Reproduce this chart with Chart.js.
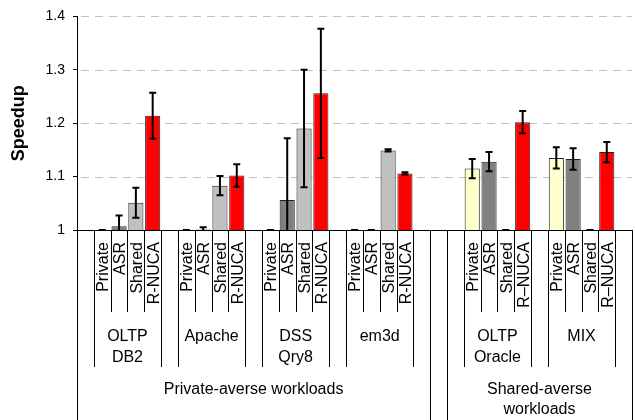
<!DOCTYPE html>
<html>
<head>
<meta charset="utf-8">
<script src="https://cdn.jsdelivr.net/npm/chart.js@4.4.1/dist/chart.umd.min.js"></script>
<style>
  body { margin: 0; background: #fff; }
  #wrap { width: 635px; height: 420px; }
</style>
</head>
<body>
<div id="wrap"><canvas id="bar-chart"></canvas></div>
<script>
const workloads = [['OLTP', 'DB2'], ['Apache'], ['DSS', 'Qry8'], ['em3d'], ['OLTP', 'Oracle'], ['MIX']]
const workloadClass = [0, 0, 0, 0, 1, 1]
const classNames = [['Private-averse workloads'], ['Shared-averse', 'workloads']]
const configs = ['Private', 'ASR', 'Shared', 'R-NUCA']
const rnucaNames = ['R-NUCA', 'R-NUCA', 'R-NUCA', 'R-NUCA', 'R\u2013NUCA', 'R\u2013NUCA']
const configColors = ['#ffffcc', '#808080', '#c0c0c0', '#ff0000']

// speedup per workload, one array per config
const privateSpeedup = [1, 1, 1, 1, 1.115, 1.135]
const asrSpeedup = [1.007, 1.001, 1.056, 1, 1.128, 1.133]
const sharedSpeedup = [1.051, 1.083, 1.19, 1.149, 1, 1]
const rnucaSpeedup = [1.214, 1.102, 1.256, 1.106, 1.202, 1.146]

// error bar half-heights
const privateErr = [0, 0, 0, 0, 0.018, 0.02]
const asrErr = [0.02, 0.004, 0.116, 0, 0.018, 0.02]
const sharedErr = [0.028, 0.018, 0.11, 0.002, 0, 0]
const rnucaErr = [0.043, 0.021, 0.121, 0.002, 0.021, 0.019]

const yTicks = [1, 1.1, 1.2, 1.3, 1.4]

const speedups = [privateSpeedup, asrSpeedup, sharedSpeedup, rnucaSpeedup]
const errors = [privateErr, asrErr, sharedErr, rnucaErr]

// lay out category slots: empty slot before each workload, two extra between classes
const slots = []
const groupStart = []
workloadClass.forEach((cls, w) => {
  if (w > 0 && workloadClass[w - 1] !== cls) slots.push(null, null)
  slots.push(null)
  groupStart.push(slots.length)
  configs.forEach((c, ci) => slots.push({ w: w, c: ci }))
})
slots.push(null)

const labels = slots.map(s => s ? configs[s.c] : '')
const values = slots.map(s => s ? [1, speedups[s.c][s.w]] : null)
const colors = slots.map(s => s ? configColors[s.c] : 'rgba(0,0,0,0)')

const FONT = '"Liberation Sans", Arial, sans-serif'
Chart.defaults.font.family = FONT
Chart.defaults.color = '#000'

const labelsPlugin = {
  id: 'labels',
  beforeDatasetsDraw(chart) {
    // dashed gridlines
    const { ctx, chartArea, scales: { y } } = chart
    ctx.save()
    ctx.strokeStyle = '#c0c0c0'
    ctx.lineWidth = 1
    ctx.setLineDash([8, 6])
    yTicks.forEach(v => {
      if (v === yTicks[0]) return
      const py = Math.round(y.getPixelForValue(v)) + 0.5
      ctx.beginPath()
      ctx.moveTo(chartArea.left + 4, py)
      ctx.lineTo(chartArea.right, py)
      ctx.stroke()
    })
    ctx.restore()
  },
  afterDatasetsDraw(chart) {
    const { ctx, chartArea, scales: { x, y } } = chart
    // error bars
    ctx.save()
    ctx.beginPath()
    ctx.rect(chartArea.left, chartArea.top - 10, chartArea.width, chartArea.height + 11)
    ctx.clip()
    ctx.strokeStyle = '#000'
    ctx.lineWidth = 2
    slots.forEach((s, i) => {
      if (!s) return
      const v = speedups[s.c][s.w]
      const e = errors[s.c][s.w]
      const cx = x.getPixelForValue(i)
      const yt = y.getPixelForValue(v + e)
      const yb = y.getPixelForValue(v - e)
      ctx.beginPath()
      ctx.moveTo(cx, yt); ctx.lineTo(cx, yb)
      ctx.moveTo(cx - 3.5, yt); ctx.lineTo(cx + 3.5, yt)
      ctx.moveTo(cx - 3.5, yb); ctx.lineTo(cx + 3.5, yb)
      ctx.stroke()
    })
    ctx.restore()
  },
  afterDraw(chart) {
    const { ctx, chartArea } = chart
    const sw = chartArea.width / slots.length
    const left = i => chartArea.left + i * sw
    const base = chartArea.bottom
    const lvl1 = base + 82
    const lvl2 = base + 137
    const lvl3 = chart.height
    ctx.save()
    ctx.strokeStyle = '#000'
    ctx.lineWidth = 1
    ctx.beginPath()
    const vline = (i, bottom) => {
      const px = Math.round(left(i)) + 0.5
      ctx.moveTo(px, base)
      ctx.lineTo(px, bottom)
    }
    groupStart.forEach(gs => {
      vline(gs, lvl2)
      vline(gs + 1, lvl1)
      vline(gs + 2, lvl1)
      vline(gs + 3, lvl1)
      vline(gs + 4, lvl2)
    })
    classNames.forEach((name, cls) => {
      const ws = workloadClass.map((c, w) => c === cls ? w : -1).filter(w => w >= 0)
      vline(groupStart[ws[0]] - 1, lvl3)
      vline(groupStart[ws[ws.length - 1]] + 5, lvl3)
    })
    ctx.stroke()

    ctx.fillStyle = '#000'
    // config names, rotated
    ctx.font = '16px ' + FONT
    ctx.textAlign = 'right'
    ctx.textBaseline = 'alphabetic'
    groupStart.forEach((gs, w) => {
      configs.forEach((c, ci) => {
        const name = ci === 3 ? rnucaNames[w] : c
        ctx.save()
        ctx.translate(left(gs + ci + 1) - 2.5, base + 12)
        ctx.rotate(-Math.PI / 2)
        ctx.fillText(name, 0, 0)
        ctx.restore()
      })
    })
    // workload names
    ctx.textAlign = 'center'
    ctx.textBaseline = 'middle'
    groupStart.forEach((gs, w) => {
      const cx = (left(gs) + left(gs + 4)) / 2
      workloads[w].forEach((line, li) => ctx.fillText(line, cx, base + 107 + li * 21))
    })
    // workload classes
    classNames.forEach((name, cls) => {
      const ws = workloadClass.map((c, w) => c === cls ? w : -1).filter(w => w >= 0)
      const cx = (left(groupStart[ws[0]] - 1) + left(groupStart[ws[ws.length - 1]] + 5)) / 2
      name.forEach((line, li) => ctx.fillText(line, cx, base + 160 + li * 20))
    })
    // y title
    ctx.font = 'bold 18px ' + FONT
    ctx.translate(19, (chartArea.top + chartArea.bottom) / 2)
    ctx.rotate(-Math.PI / 2)
    ctx.fillText('Speedup', 0, 0)
    ctx.restore()
  }
}

const ctx = document.getElementById('bar-chart').getContext('2d')
const speedupChart = new Chart(ctx, {
  type: 'bar',
  data: {
    labels: labels,
    datasets: [{
      data: values,
      backgroundColor: colors,
      borderColor: '#222',
      borderWidth: 1,
      categoryPercentage: 1,
      barPercentage: 0.9,
    }],
  },
  options: {
    responsive: true,
    maintainAspectRatio: false,
    animation: false,
    layout: { padding: { top: 16, right: 3, bottom: 190, left: 0 } },
    plugins: { legend: { display: false }, tooltip: { enabled: false } },
    scales: {
      x: {
        ticks: { display: false },
        grid: { display: false },
        border: { display: true, color: '#000', width: 1 },
        afterFit: s => { s.height = 0 },
      },
      y: {
        min: 1,
        max: 1.4,
        afterBuildTicks: s => { s.ticks = yTicks.map(v => ({ value: v })) },
        ticks: {
          font: { size: 14 },
          padding: 8,
          callback: v => String(Math.round(v * 10) / 10),
        },
        grid: {
          drawOnChartArea: false,
          tickColor: '#000',
          tickLength: 4,
          lineWidth: 1,
        },
        border: { display: true, color: '#000', width: 1 },
        afterFit: s => { s.width = 77 },
      },
    },
  },
  plugins: [labelsPlugin],
})
</script>
</body>
</html>
